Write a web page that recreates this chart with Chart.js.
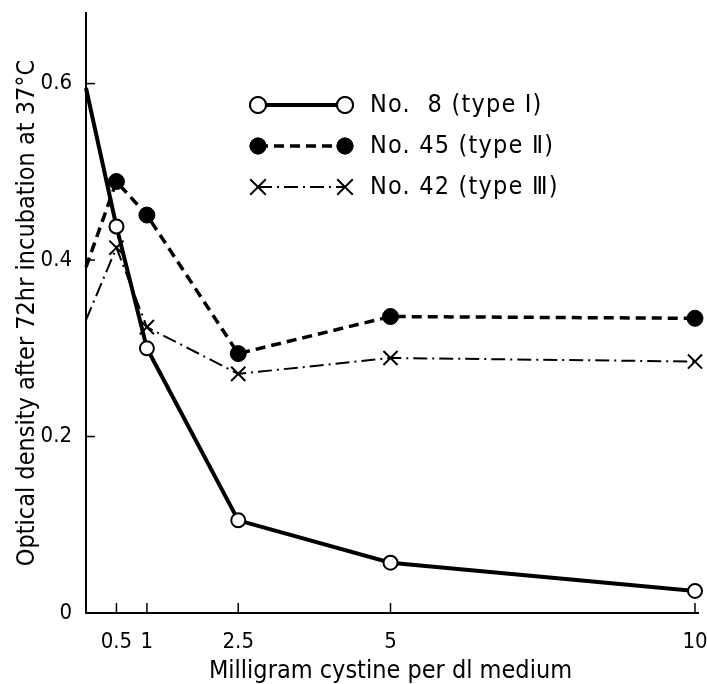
<!DOCTYPE html>
<html>

<head>
    <title>Cystine growth curves</title>
    <script src="https://cdn.jsdelivr.net/npm/chart.js"></script>
    <style>
        body { margin: 0; background: #fff; }
        #wrap { width: 707px; height: 684px; }
    </style>
</head>

<body>
    <div id="wrap"><canvas id="cystineChart" width="707" height="684"></canvas></div>

    <script>
        // values (mg cystine per dl -> optical density)
        const doses = [0, 0.5, 1, 2.5, 5, 10];
        const no8 = [0.595, 0.438, 0.300, 0.105, 0.057, 0.025];
        const no45 = [0.392, 0.489, 0.451, 0.294, 0.336, 0.334];
        const no42 = [0.332, 0.414, 0.324, 0.271, 0.289, 0.285];

        const xTicks = [0.5, 1, 2.5, 5, 10];
        const yTicks = [0, 0.2, 0.4, 0.6];
        const seriesNames = ['No.  8 (type Ⅰ)', 'No. 45 (type Ⅱ)', 'No. 42 (type Ⅲ)'];

        const FONT = '"Liberation Sans Narrow", "DejaVu Sans Condensed", "Liberation Sans", sans-serif';

        function points(vals) {
            return doses.map((x, i) => ({ x: x, y: vals[i] }));
        }
        // no marker where the curve meets the y axis
        const radii = doses.map(d => d === 0 ? 0 : 7);

        // tick marks point into the plot, like the original
        const innerTicks = {
            id: 'innerTicks',
            afterDraw(chart) {
                const c = chart.ctx, xs = chart.scales.x, ys = chart.scales.y;
                c.save();
                c.strokeStyle = '#000';
                c.lineWidth = 1.5;
                yTicks.forEach(v => {
                    if (v === 0) return;
                    const py = ys.getPixelForValue(v);
                    c.beginPath(); c.moveTo(xs.left, py); c.lineTo(xs.left + 9, py); c.stroke();
                });
                xTicks.forEach(v => {
                    const px = xs.getPixelForValue(v);
                    c.beginPath(); c.moveTo(px, ys.bottom); c.lineTo(px, ys.bottom - 10); c.stroke();
                });
                // axis line runs a little past the last tick
                c.lineWidth = 2;
                c.beginPath(); c.moveTo(xs.right, ys.bottom); c.lineTo(xs.right + 4, ys.bottom); c.stroke();
                c.restore();
            }
        };

        // legend drawn inside the plot: line sample with a marker at each end
        const sampleLegend = {
            id: 'sampleLegend',
            afterDraw(chart) {
                const c = chart.ctx;
                const x0 = 258, x1 = 345, tx = 370;
                const rows = [105, 146, 187];
                chart.data.datasets.forEach((ds, i) => {
                    const y = rows[i];
                    const r = ds.pointStyle === 'crossRot' ? 11 : 8;
                    c.save();
                    c.strokeStyle = '#000';
                    c.lineWidth = ds.borderWidth;
                    c.setLineDash(ds.borderDash || []);
                    c.beginPath(); c.moveTo(x0, y); c.lineTo(x1, y); c.stroke();
                    c.setLineDash([]);
                    [x0, x1].forEach(px => {
                        c.fillStyle = ds.pointBackgroundColor;
                        c.strokeStyle = '#000';
                        c.lineWidth = ds.pointBorderWidth;
                        Chart.helpers.drawPoint(c, {
                            pointStyle: ds.pointStyle, radius: r, rotation: 0,
                            borderWidth: ds.pointBorderWidth
                        }, px, y);
                        if (ds.pointStyle === 'circle') { c.fill(); c.stroke(); }
                    });
                    c.fillStyle = '#000';
                    c.font = '25px ' + FONT;
                    c.letterSpacing = '1.2px';
                    c.textBaseline = 'middle';
                    c.textAlign = 'left';
                    c.fillText(seriesNames[i], tx, y);
                    c.restore();
                });
            }
        };

        const ctx = document.getElementById('cystineChart').getContext('2d');
        const chart = new Chart(ctx, {
            type: 'scatter',
            data: {
                datasets: [{
                    label: seriesNames[0],
                    data: points(no8),
                    showLine: true,
                    clip: false,
                    borderColor: '#000',
                    borderWidth: 4,
                    pointStyle: 'circle',
                    pointRadius: radii,
                    pointBorderWidth: 2,
                    pointBackgroundColor: '#fff',
                    pointBorderColor: '#000'
                }, {
                    label: seriesNames[1],
                    data: points(no45),
                    showLine: true,
                    clip: false,
                    borderColor: '#000',
                    borderWidth: 3.5,
                    borderDash: [10, 6],
                    pointStyle: 'circle',
                    pointRadius: radii.map(r => r ? 8 : 0),
                    pointBorderWidth: 1,
                    pointBackgroundColor: '#000',
                    pointBorderColor: '#000'
                }, {
                    label: seriesNames[2],
                    data: points(no42),
                    showLine: true,
                    clip: false,
                    borderColor: '#000',
                    borderWidth: 2,
                    borderDash: [14, 5, 2, 5],
                    pointStyle: 'crossRot',
                    pointRadius: radii.map(r => r ? 10 : 0),
                    pointBorderWidth: 2,
                    pointBackgroundColor: '#000',
                    pointBorderColor: '#000'
                }]
            },
            options: {
                responsive: false,
                animation: false,
                layout: { padding: { top: 13, right: 9, bottom: 0, left: 0 } },
                plugins: { legend: { display: false }, tooltip: { enabled: false } },
                scales: {
                    x: {
                        type: 'linear', min: 0, max: 10,
                        afterBuildTicks: s => { s.ticks = xTicks.map(v => ({ value: v })); },
                        afterFit: s => { s.height = 71; s.paddingRight = 0; s.paddingLeft = 0; },
                        grid: { display: false },
                        border: { display: true, color: '#000', width: 2 },
                        ticks: { color: '#000', padding: 8, font: { family: FONT, size: 22 } },
                        title: {
                            display: true, text: 'Milligram cystine per dl medium',
                            color: '#000', font: { family: FONT, size: 25 }, padding: { top: 0, bottom: -2 }
                        }
                    },
                    y: {
                        type: 'linear', min: 0, max: 0.68,
                        afterBuildTicks: s => { s.ticks = yTicks.map(v => ({ value: v })); },
                        afterFit: s => { s.width = 86; s.paddingTop = 0; s.paddingBottom = 0; },
                        grid: { display: false },
                        border: { display: true, color: '#000', width: 2 },
                        ticks: {
                            color: '#000', padding: 6, font: { family: FONT, size: 22 },
                            callback: v => String(v)
                        },
                        title: {
                            display: true, text: 'Optical density after 72hr incubation at 37°C',
                            color: '#000', font: { family: FONT, size: 25 }, padding: { top: 12, bottom: 0 }
                        }
                    }
                }
            },
            plugins: [innerTicks, sampleLegend]
        });
    </script>
</body>

</html>
